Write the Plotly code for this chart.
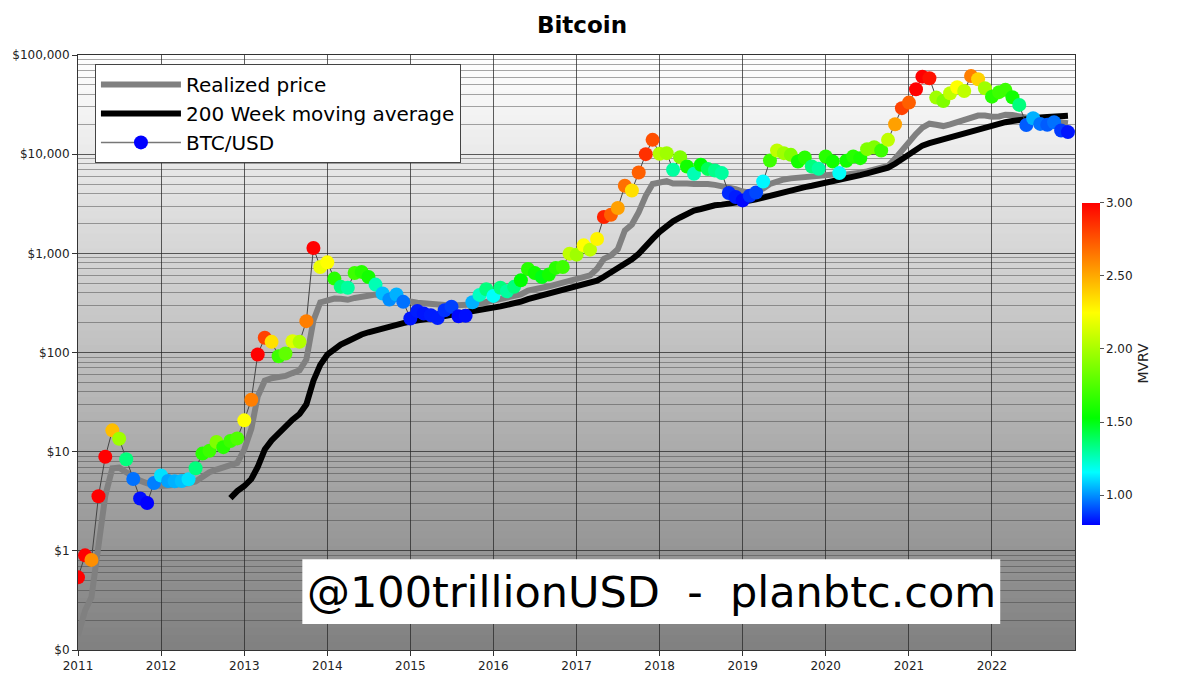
import plotly.graph_objects as go

# ---------------- data ----------------
months = [f"{y}-{m:02d}-01" for y in range(2011, 2023) for m in range(1, 13)]

btc_usd = [
    0.54, 0.90, 0.81, 3.55, 8.9, 16.4, 13.5, 8.4, 5.3, 3.37, 3.04, 4.83,
    5.74, 5.06, 5.03, 5.06, 5.27, 6.8, 9.56, 10.2, 12.5, 11.1, 12.8, 13.6,
    20.7, 33.4, 95.5, 141, 128, 91.8, 97.7, 130, 128, 207, 1132, 729,
    811, 556, 459, 449, 634, 650, 578, 484, 393, 342, 384, 324,
    220, 262, 247, 238, 223, 267, 290, 232, 235, 321, 381, 435,
    372, 449, 414, 459, 535, 697, 634, 578, 610, 713, 729, 993,
    970, 1203, 1089, 1396, 2323, 2449, 2862, 4801, 4303, 6534, 10000, 13950,
    10080, 10240, 6960, 9330, 7520, 6340, 7810, 7070, 6850, 6440, 4055, 3700,
    3420, 3810, 4110, 5310, 8630, 10880, 10240, 9840, 8430, 9250, 7520, 7130,
    9460, 8430, 6440, 8570, 9460, 9120, 11240, 11760, 10880, 13950, 20000, 29100,
    33100, 45200, 60500, 58200, 37200, 34400, 41200, 47300, 43400, 61500, 57000, 46200,
    38000, 42200, 44500, 37500, 31400, 19700, 23000, 20200, 19760, 21000, 17300, 16700,
]

mvrv = [
    3.1, 3.1, 2.58, 3.2, 3.3, 2.44, 1.98, 1.35, 0.96, 0.82, 0.8, 0.98,
    1.12, 1.03, 1.05, 1.07, 1.12, 1.35, 1.64, 1.70, 1.89, 1.64, 1.70, 1.75,
    2.25, 2.63, 3.0, 2.81, 2.34, 1.70, 1.80, 2.16, 2.03, 2.63, 3.2, 2.2,
    2.25, 1.64, 1.35, 1.30, 1.70, 1.64, 1.58, 1.27, 1.07, 1.0, 1.05, 0.96,
    0.83, 0.84, 0.83, 0.84, 0.84, 0.87, 0.89, 0.81, 0.82, 1.05, 1.25, 1.35,
    1.17, 1.35, 1.30, 1.35, 1.53, 1.64, 1.58, 1.50, 1.58, 1.64, 1.70, 2.07,
    1.98, 2.25, 2.07, 2.28, 2.90, 2.72, 2.53, 2.67, 2.34, 2.72, 2.86, 2.77,
    2.03, 1.98, 1.30, 1.89, 1.58, 1.27, 1.53, 1.40, 1.33, 1.30, 0.86, 0.84,
    0.81, 0.87, 0.90, 1.15, 1.70, 2.07, 1.98, 1.89, 1.58, 1.64, 1.35, 1.30,
    1.64, 1.58, 1.17, 1.58, 1.64, 1.60, 1.89, 1.89, 1.70, 2.07, 2.53, 2.81,
    2.72, 3.0, 3.05, 2.95, 1.98, 1.89, 2.07, 2.25, 2.07, 2.63, 2.38, 1.98,
    1.64, 1.70, 1.70, 1.58, 1.35, 0.93, 1.05, 0.96, 0.93, 0.96, 0.88, 0.83,
]

realized_price = [
    0.14, 0.25, 0.34, 1.1, 3.6, 6.8, 6.9, 6.2, 5.6, 5.1, 4.8, 4.6,
    4.5, 4.55, 4.6, 4.7, 4.8, 5.0, 5.6, 6.2, 6.6, 7.0, 7.3, 7.7,
    10.5, 17, 36, 52, 55, 56, 58, 62, 66, 85, 210, 320,
    340, 350, 348, 340, 355, 368, 378, 384, 372, 358, 348, 335,
    327, 318, 312, 308, 305, 302, 298, 298, 300, 305, 312, 322,
    330, 340, 350, 368, 385, 420, 440, 450, 465, 485, 505, 530,
    560, 580, 600, 700, 880, 950, 1100, 1700, 1950, 2600, 3800, 5000,
    5200, 5350, 5050, 5100, 5050, 5000, 5050, 5000, 4900, 4800, 4650, 4450,
    4200, 4100, 4200, 4500, 5000, 5300, 5550, 5700, 5800, 5850, 5900, 5950,
    6000, 6150, 6300, 6250, 6300, 6500, 6700, 7000, 7200, 7600, 9000, 11000,
    13000, 16000, 18500, 20300, 19800, 19200, 20000, 21000, 22000, 23500, 24500, 24500,
    23800, 24000, 25000, 24800, 24000, 23000, 22500, 22000, 21500, 21300, 21000, 20500,
]

wma_200 = [None] * 22 + [
    3.4, 4.0,
    4.5, 5.3, 7.0, 10.5, 13, 15.5, 18, 21, 24, 30, 52, 75,
    95, 108, 120, 130, 142, 152, 160, 168, 177, 184, 192, 198,
    205, 212, 218, 223, 228, 233, 240, 246, 252, 258, 265, 272,
    282, 292, 302, 312, 325, 345, 360, 375, 390, 405, 420, 435,
    455, 475, 495, 530, 580, 640, 730, 790, 870, 990, 1200, 1400,
    1650, 1900, 2100, 2300, 2500, 2700, 2800, 2950, 3050, 3100, 3150, 3200,
    3300, 3400, 3500, 3650, 3850, 4050, 4200, 4350, 4500, 4650, 4800, 4950,
    5150, 5400, 5600, 5800, 5950, 6150, 6400, 6650, 6900, 7300, 8000, 8900,
    10000, 11200, 12200, 12900, 13500, 14200, 14900, 15600, 16400, 17300, 18100, 18900,
    19600, 20400, 21000, 21600, 22200, 22600, 23000, 23400, 23700, 24000, 24200, 24400,
]

x_tickvals = [f"{y}-01-01" for y in range(2011, 2023)]
x_ticktext = [str(y) for y in range(2011, 2023)]
y_tickvals = [0.1, 1, 10, 100, 1000, 10000, 100000]
y_ticktext = ["$0", "$1", "$10", "$100", "$1,000", "$10,000", "$100,000"]
cbar_ticks = [1.0, 1.5, 2.0, 2.5, 3.0]

FONT = "DejaVu Sans"

mvrv_scale = [
    [0.0, "rgb(0,0,255)"],
    [0.164, "rgb(0,255,255)"],
    [0.332, "rgb(0,255,0)"],
    [0.659, "rgb(255,255,0)"],
    [1.0, "rgb(255,0,0)"],
]

fig = go.Figure()

fig.add_trace(go.Scatter(
    x=months, y=realized_price, mode="lines", name="Realized price",
    line=dict(color="#808080", width=6),
))
fig.add_trace(go.Scatter(
    x=months, y=wma_200, mode="lines", name="200 Week moving average",
    line=dict(color="#000000", width=6),
))
fig.add_trace(go.Scatter(
    x=months, y=btc_usd, mode="lines+markers", name="BTC/USD", showlegend=False,
    line=dict(color="#444444", width=1),
    marker=dict(
        size=14, color=mvrv, colorscale=mvrv_scale, cmin=0.8, cmax=3.0,
        line=dict(width=0),
        colorbar=dict(
            x=1.007, xanchor="left", xpad=0, y=0.4815, yanchor="middle",
            len=0.541, lenmode="fraction", thickness=18, ypad=0,
            outlinewidth=0, tickvals=cbar_ticks, tickformat=".2f",
            ticks="outside", ticklen=4, tickcolor="#555",
            tickfont=dict(family=FONT, size=12, color="#222"),
            title=dict(text="MVRV", side="right", font=dict(family=FONT, size=14, color="#222")),
        ),
    ),
))
# legend entry for BTC/USD
fig.add_trace(go.Scatter(
    x=[None], y=[None], mode="lines+markers", name="BTC/USD",
    line=dict(color="#777777", width=1.5),
    marker=dict(size=14, color="#0000ff"),
))

# gradient plot background
shapes = []
N = 80
for k in range(N):
    f0 = k / N
    f1 = (k + 1) / N
    fm = 1 - (f0 + f1) / 2  # 0 at top, 1 at bottom
    c = int(round(255 - 127 * fm))
    shapes.append(dict(
        type="rect", xref="paper", yref="paper", x0=0, x1=1, y0=f0, y1=f1 + 0.002,
        fillcolor=f"rgb({c},{c},{c})", line=dict(width=0), layer="below",
    ))
# watermark box
shapes.append(dict(
    type="rect", xref="paper", yref="paper", x0=0.225, x1=0.925, y0=0.0436, y1=0.1527,
    fillcolor="white", line=dict(width=0), layer="above",
))

minor_vals = [m * 10 ** e for e in range(-1, 5) for m in range(2, 10)]

fig.update_layout(
    width=1200, height=685,
    margin=dict(l=75, r=125, t=55, b=34),
    paper_bgcolor="white", plot_bgcolor="rgba(0,0,0,0)",
    font=dict(family=FONT, size=12, color="#222"),
    title=dict(text="<b>Bitcoin</b>", x=0.485, xanchor="center", y=0.963, yanchor="middle",
               font=dict(family=FONT, size=23, color="black")),
    shapes=shapes,
    showlegend=True,
    legend=dict(
        x=0.017, y=0.985, xanchor="left", yanchor="top",
        bgcolor="white", bordercolor="#444", borderwidth=1,
        font=dict(family=FONT, size=20, color="black"),
        itemwidth=80, tracegroupgap=0,
    ),
    annotations=[dict(
        text="@100trillionUSD\u00a0\u00a0-\u00a0\u00a0planbtc.com", xref="paper", yref="paper",
        x=0.575, y=0.098, xanchor="center", yanchor="middle", showarrow=False,
        font=dict(family=FONT, size=43, color="black"),
    )],
)

fig.update_xaxes(
    type="date", range=["2011-01-01", "2023-01-01"],
    tickvals=x_tickvals, ticktext=x_ticktext,
    showgrid=True, gridcolor="rgba(40,40,40,0.75)", gridwidth=1,
    ticks="outside", ticklen=5, tickcolor="#333",
    showline=True, linecolor="#333", linewidth=1, mirror=True,
    zeroline=False,
    tickfont=dict(family=FONT, size=12, color="#222"),
)
fig.update_yaxes(
    type="log", range=[-1, 5],
    tickvals=y_tickvals, ticktext=y_ticktext,
    showgrid=True, gridcolor="rgba(40,40,40,0.75)", gridwidth=1,
    minor=dict(tickvals=minor_vals, showgrid=True, gridcolor="rgba(60,60,60,0.45)", gridwidth=1, ticks=""),
    ticks="outside", ticklen=5, tickcolor="#333",
    showline=True, linecolor="#333", linewidth=1, mirror=True,
    zeroline=False,
    tickfont=dict(family=FONT, size=12, color="#222"),
)

fig.write_html("out.html")
